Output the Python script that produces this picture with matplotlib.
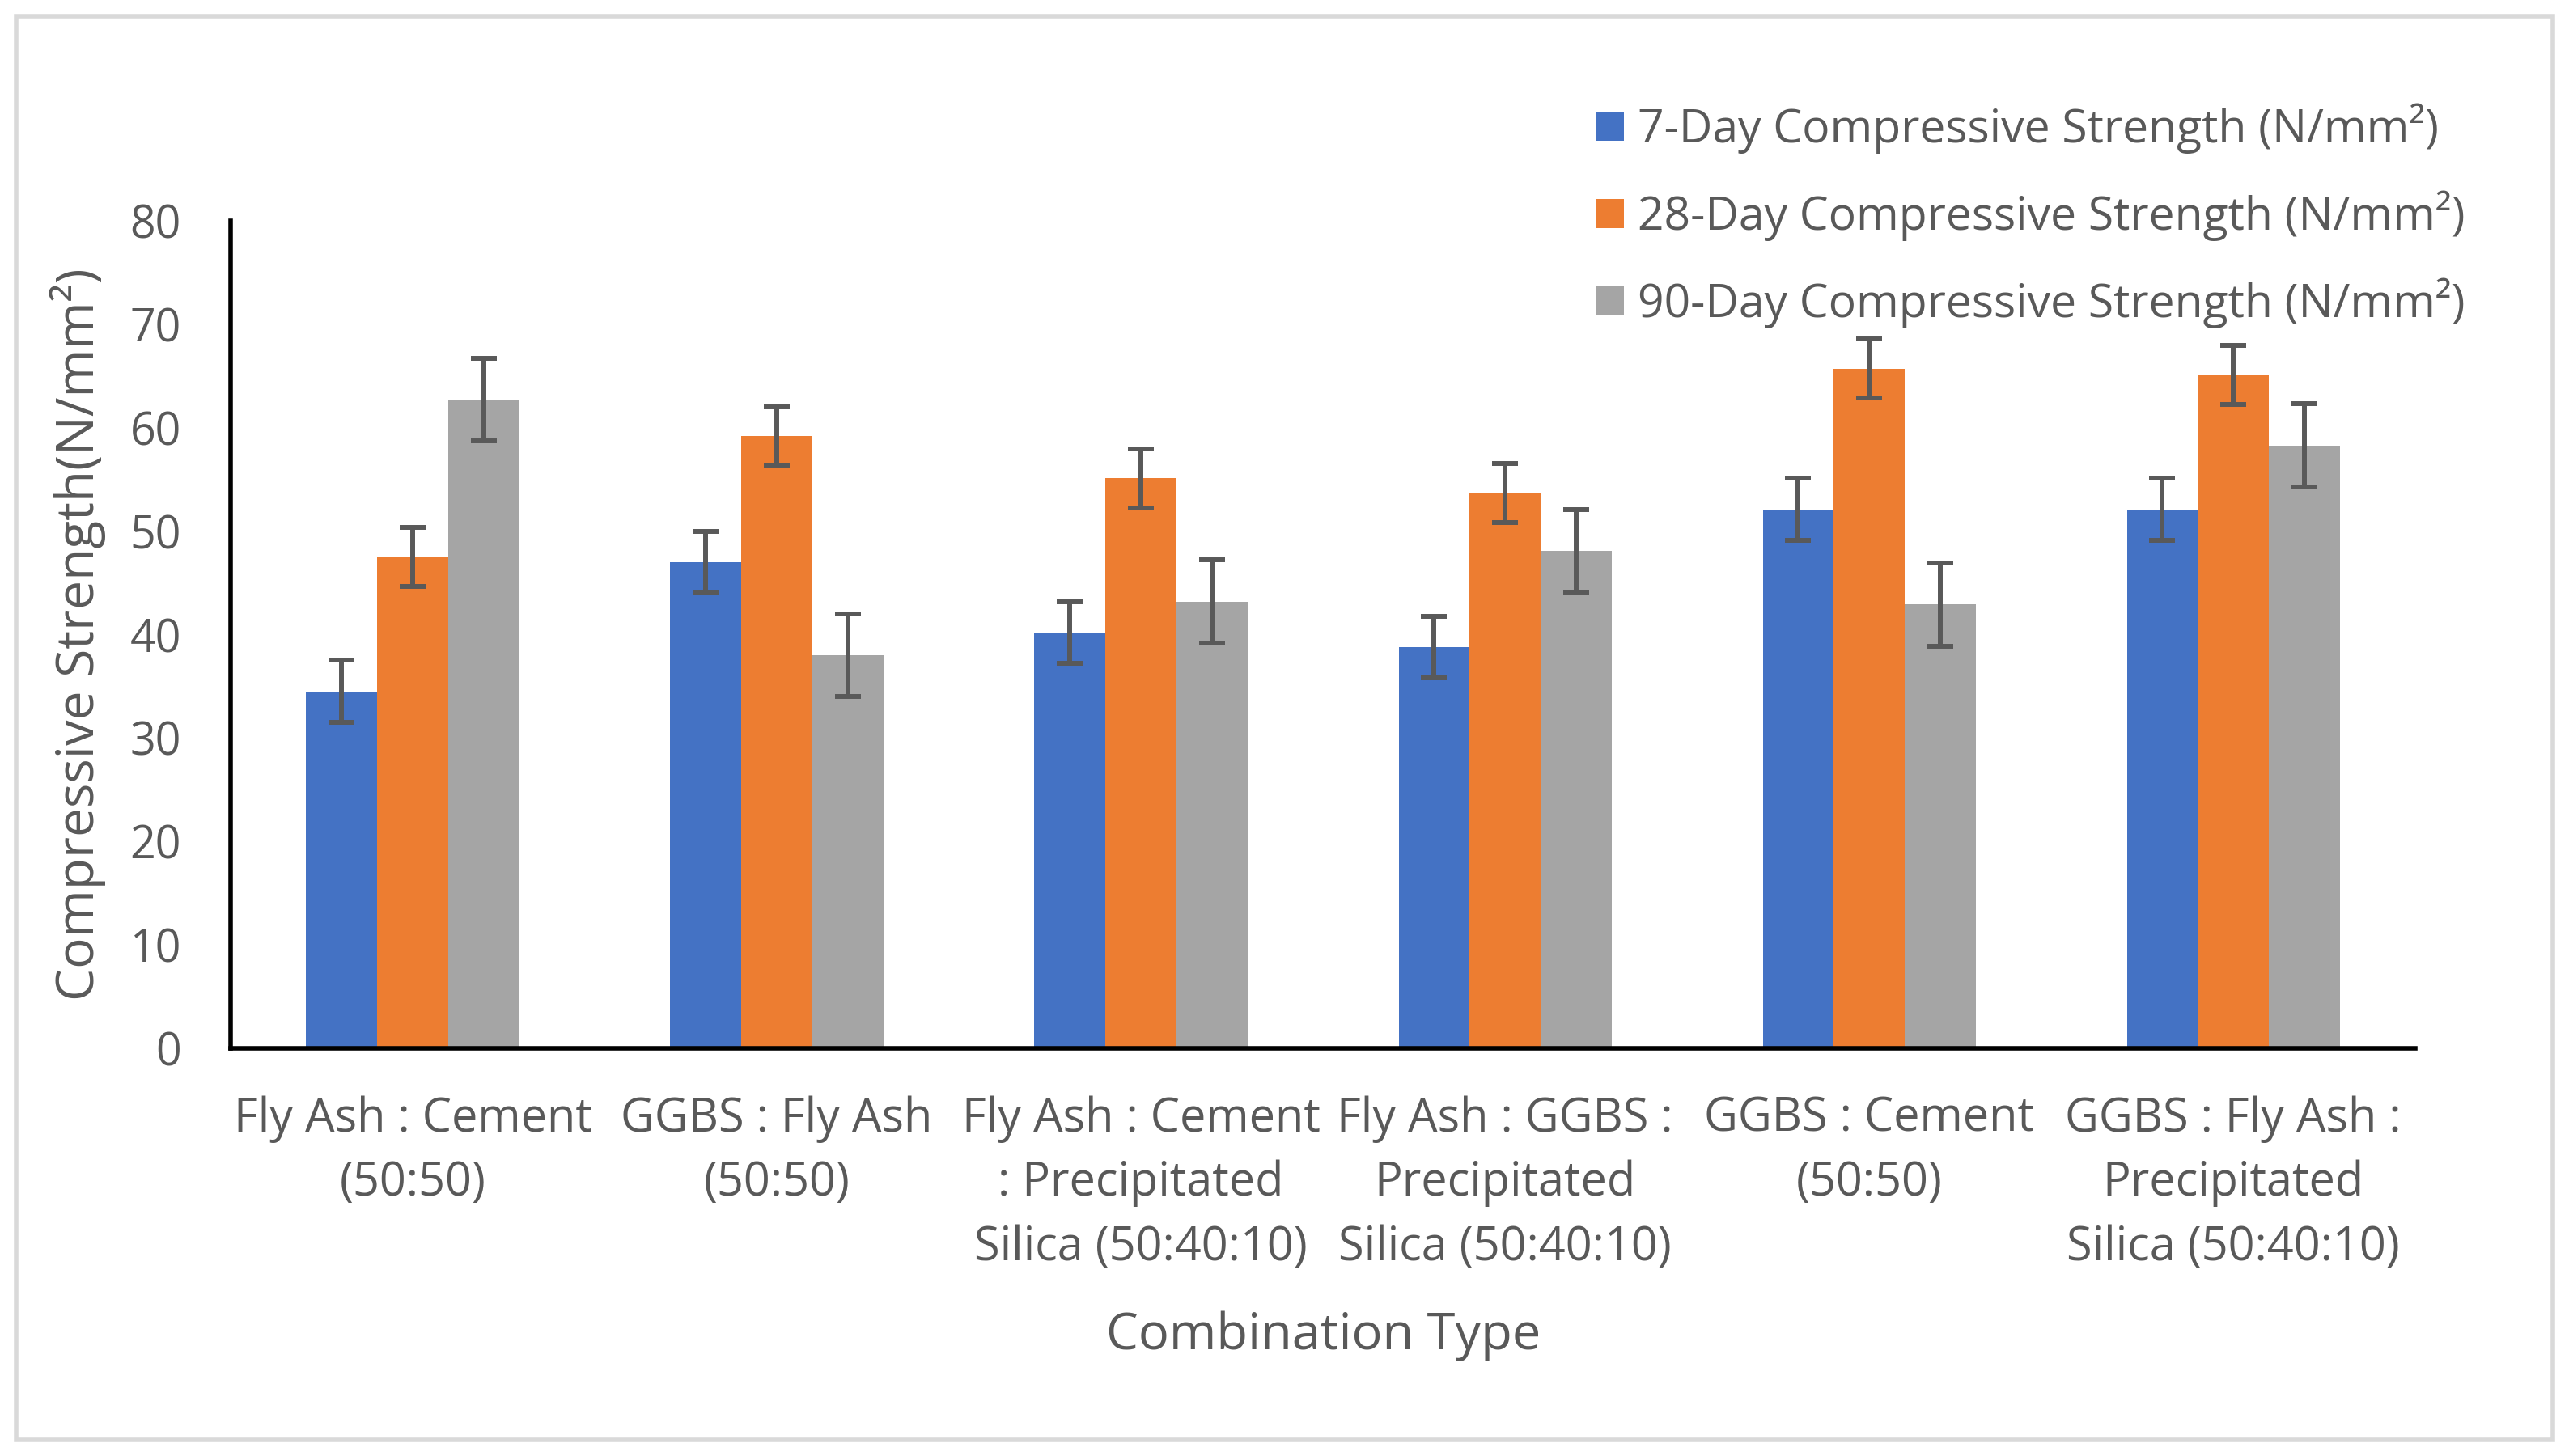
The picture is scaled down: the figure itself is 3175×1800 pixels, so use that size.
"""Compressive strength of binder combinations at 7, 28 and 90 days."""
import matplotlib

matplotlib.use("Agg")
import matplotlib.pyplot as plt
import numpy as np
from matplotlib.patches import Rectangle

# data
CATEGORIES = [
    "Fly Ash : Cement\n(50:50)",
    "GGBS : Fly Ash\n(50:50)",
    "Fly Ash : Cement\n: Precipitated\nSilica (50:40:10)",
    "Fly Ash : GGBS :\nPrecipitated\nSilica (50:40:10)",
    "GGBS : Cement\n(50:50)",
    "GGBS : Fly Ash :\nPrecipitated\nSilica (50:40:10)",
]
SERIES = [
    "7-Day Compressive Strength (N/mm²)",
    "28-Day Compressive Strength (N/mm²)",
    "90-Day Compressive Strength (N/mm²)",
]
DAY7 = [34.5, 47.0, 40.2, 38.8, 52.1, 52.1]
DAY28 = [47.5, 59.2, 55.1, 53.7, 65.7, 65.1]
DAY90 = [62.7, 38.0, 43.2, 48.1, 42.9, 58.3]
ERR7 = [3.0] * 6
ERR28 = [2.85] * 6
ERR90 = [4.0] * 6
YTICKS = [0, 10, 20, 30, 40, 50, 60, 70, 80]

COLORS = ["#4472C4", "#ED7D31", "#A5A5A5"]
TEXT = "#595959"
FONT = "Open Sans"

plt.rcParams["font.family"] = [FONT, "DejaVu Sans"]

fig = plt.figure(figsize=(31.75, 18.0), dpi=100)
ax = fig.add_axes([0.0898, 0.28, 0.8504, 0.5683])

x = np.arange(len(CATEGORIES))
width = 0.195
values = [DAY7, DAY28, DAY90]
errors = [ERR7, ERR28, ERR90]
for i, (vals, errs) in enumerate(zip(values, errors)):
    ax.bar(
        x + (i - 1) * width,
        vals,
        width,
        color=COLORS[i],
        label=SERIES[i],
        yerr=errs,
        error_kw=dict(ecolor=TEXT, elinewidth=4.3, capsize=11.5, capthick=4.3),
        zorder=2,
    )

ax.set_xlim(-0.5, len(CATEGORIES) - 0.5)
ax.set_ylim(0, 80)
ax.set_yticks(YTICKS)
ax.set_xticks(x)
ax.set_xticklabels(CATEGORIES, linespacing=1.47)
ax.tick_params(axis="y", length=0, pad=44, labelsize=40, labelcolor=TEXT)
ax.tick_params(axis="x", length=0, pad=42, labelsize=41.5, labelcolor=TEXT)

for side in ("top", "right"):
    ax.spines[side].set_visible(False)
for side in ("left", "bottom"):
    ax.spines[side].set_linewidth(4.0)
    ax.spines[side].set_color("black")

ax.set_ylabel("Compressive Strength(N/mm²)", fontsize=46, color=TEXT)
ax.yaxis.set_label_coords(-0.057, 0.5)
ax.set_xlabel("Combination Type", fontsize=45.5, color=TEXT, va="center")
ax.xaxis.set_label_coords(0.5, -0.348)

ax.legend(
    loc="upper left",
    bbox_to_anchor=(0.612, 0.945),
    bbox_transform=fig.transFigure,
    frameon=False,
    fontsize=41,
    handlelength=0.62,
    handleheight=0.58,
    handletextpad=0.3,
    labelspacing=0.8,
    borderpad=0,
    labelcolor=TEXT,
)

# light grey frame around the whole chart
fig.patches.append(
    Rectangle(
        (20 / 3175, 20 / 1800),
        1 - 40 / 3175,
        1 - 40 / 1800,
        transform=fig.transFigure,
        fill=False,
        edgecolor="#D9D9D9",
        linewidth=4,
    )
)

fig.savefig("out.png", dpi=100, facecolor="white")
